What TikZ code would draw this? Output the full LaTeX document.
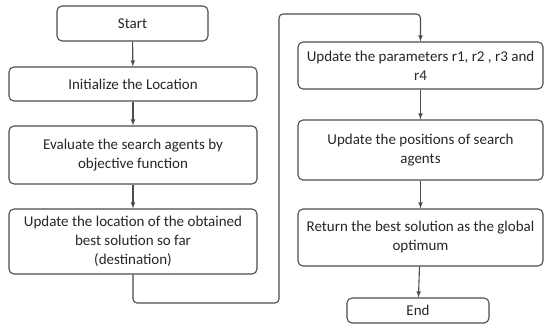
\documentclass[tikz,border=0pt]{standalone}
\usepackage{fontspec}
\setmainfont{Carlito}
\usetikzlibrary{shapes,arrows,positioning,calc}

\begin{document}
\begin{tikzpicture}[x=1pt,y=-1pt,
    box/.style={draw=black!70, line width=1.1pt, rounded corners=5pt, align=center, inner sep=0pt,
        minimum width=248pt, font=\fontsize{15}{19}\selectfont, text=black!85},
    arr/.style={-latex, draw=black!70, line width=1.1pt}]
    \useasboundingbox (0,0) rectangle (544,334);
    % left column
    \node[box, minimum width=151pt, minimum height=35pt] (start) at (132.5,23.5) {Start};
    \node[box, minimum height=34pt] (init) at (133,84) {Initialize the Location};
    \node[box, minimum height=58pt] (eval) at (133,155) {Evaluate the search agents by\\objective function};
    \node[box, minimum height=65pt] (upd) at (133,241.5) {Update the location of the obtained\\best solution so far\\(destination)};
    % right column
    \node[box, minimum width=245pt, minimum height=47pt] (param) at (420.5,65.5) {Update the parameters r1, r2 , r3 and\\r4};
    \node[box, minimum width=245pt, minimum height=60pt] (pos) at (420.5,150) {Update the positions of search\\agents};
    \node[box, minimum width=245pt, minimum height=57pt] (ret) at (420.5,237.5) {Return the best solution as the global\\optimum};
    \node[box, minimum width=142pt, minimum height=25pt] (end) at (418,310.5) {End};
    \coordinate (turn) at (279,303);
    \coordinate (top) at (279,14);

    \draw[arr] (start) -- (init);
    \draw[arr] (init) -- (eval);
    \draw[arr] (eval) -- (upd);
    \draw[arr, rounded corners=4pt] (upd.south) |- (turn) -- (top) -| (param.north);
    \draw[arr] (param) -- (pos);
    \draw[arr] (pos) -- (ret);
    \draw[arr] (ret) -- (end);
\end{tikzpicture}
\end{document}
